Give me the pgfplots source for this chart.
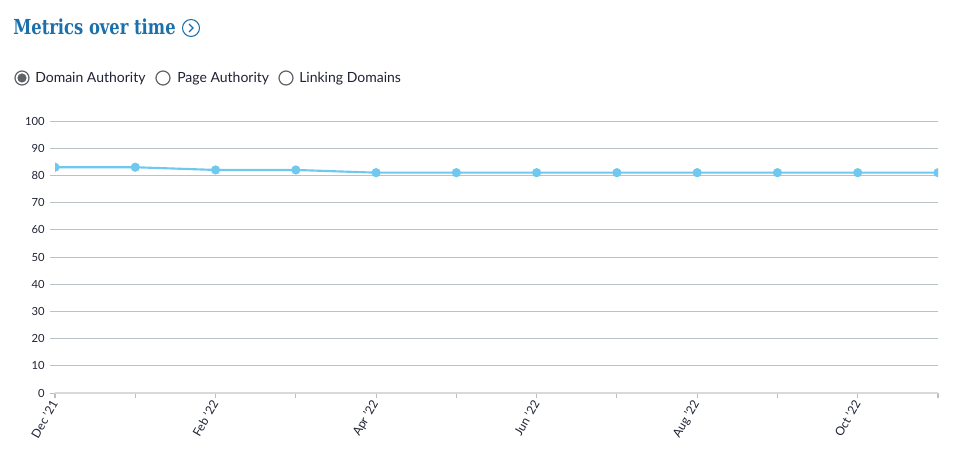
\documentclass[border=0pt]{standalone}
\usepackage{pgfplots}
\pgfplotsset{compat=1.18}
\usepackage{fontspec}
\setmainfont{Lato}
\newfontfamily\titlefont{DejaVu Serif Condensed}
\definecolor{titleblue}{HTML}{1B70AB}
\definecolor{lineblue}{HTML}{6FC8EE}
\definecolor{gridgray}{HTML}{B9C3C5}
\definecolor{axisgray}{HTML}{D6DADB}
\definecolor{txt}{HTML}{1F2233}
\definecolor{radiogray}{HTML}{5F6368}
\begin{document}
\begin{tikzpicture}
\path (0,0) rectangle (728.25pt,-344.25pt);
\begin{scope}[x=0.75pt,y=-0.75pt]
  \node[anchor=base west,inner sep=0pt,text=titleblue,font=\titlefont\bfseries\fontsize{15.5}{18}\selectfont] at (13,35) {\scalebox{0.88}[1]{Metrics over time}};
  \draw[titleblue,line width=0.8pt] (191,28) circle (8.5);
  \draw[titleblue,line width=0.9pt] (189,24) -- (193,28) -- (189,32);
  % radio buttons
  \draw[radiogray,line width=0.9pt] (22,78) circle (7);
  \fill[radiogray] (22,78) circle (4.6);
  \node[anchor=base west,inner sep=0pt,text=txt,font=\fontsize{10.5}{12}\selectfont] at (35,83) {Domain Authority};
  \draw[radiogray,line width=0.9pt] (163,78) circle (7);
  \node[anchor=base west,inner sep=0pt,text=txt,font=\fontsize{10.5}{12}\selectfont] at (177,83) {Page Authority};
  \draw[radiogray,line width=0.9pt] (286,78) circle (7);
  \node[anchor=base west,inner sep=0pt,text=txt,font=\fontsize{10.5}{12}\selectfont] at (299,83) {Linking Domains};
\end{scope}
\begin{axis}[
  at={(41.25pt,-294.75pt)}, anchor=south west,
  scale only axis, width=662.25pt, height=204pt,
  xmin=0, xmax=11, ymin=0, ymax=100,
  axis x line*=bottom, axis y line*=left,
  y axis line style={draw=none},
  x axis line style={draw=axisgray,line width=1.6pt,-},
  xtick={0,...,11},
  xticklabels={Dec '21,,Feb '22,,Apr '22,,Jun '22,,Aug '22,,Oct '22,},
  ytick={0,10,...,100},
  ymajorgrids, grid style={gridgray,line width=0.7pt},
  tick align=outside, major tick length=3.75pt,
  tick style={gridgray,line width=0.7pt},
  xtick style={axisgray!70!gray,line width=0.8pt},
  /pgf/number format/assume math mode=true,
  tick label style={font=\fontsize{8.4}{10}\selectfont,text=txt},
  xticklabel style={rotate=60,anchor=east,xshift=1pt,yshift=-1pt,font=\fontsize{9}{10}\selectfont},
  yticklabel style={xshift=-0.5pt},
  clip marker paths=true,
]
\addplot[lineblue,line width=1.6pt,mark=*,mark size=2.6pt,mark options={fill=lineblue,draw=lineblue}]
coordinates {(0,83) (1,83) (2,82) (3,82) (4,81) (5,81) (6,81) (7,81) (8,81) (9,81) (10,81) (11,81)};
\end{axis}
\end{tikzpicture}
\end{document}
